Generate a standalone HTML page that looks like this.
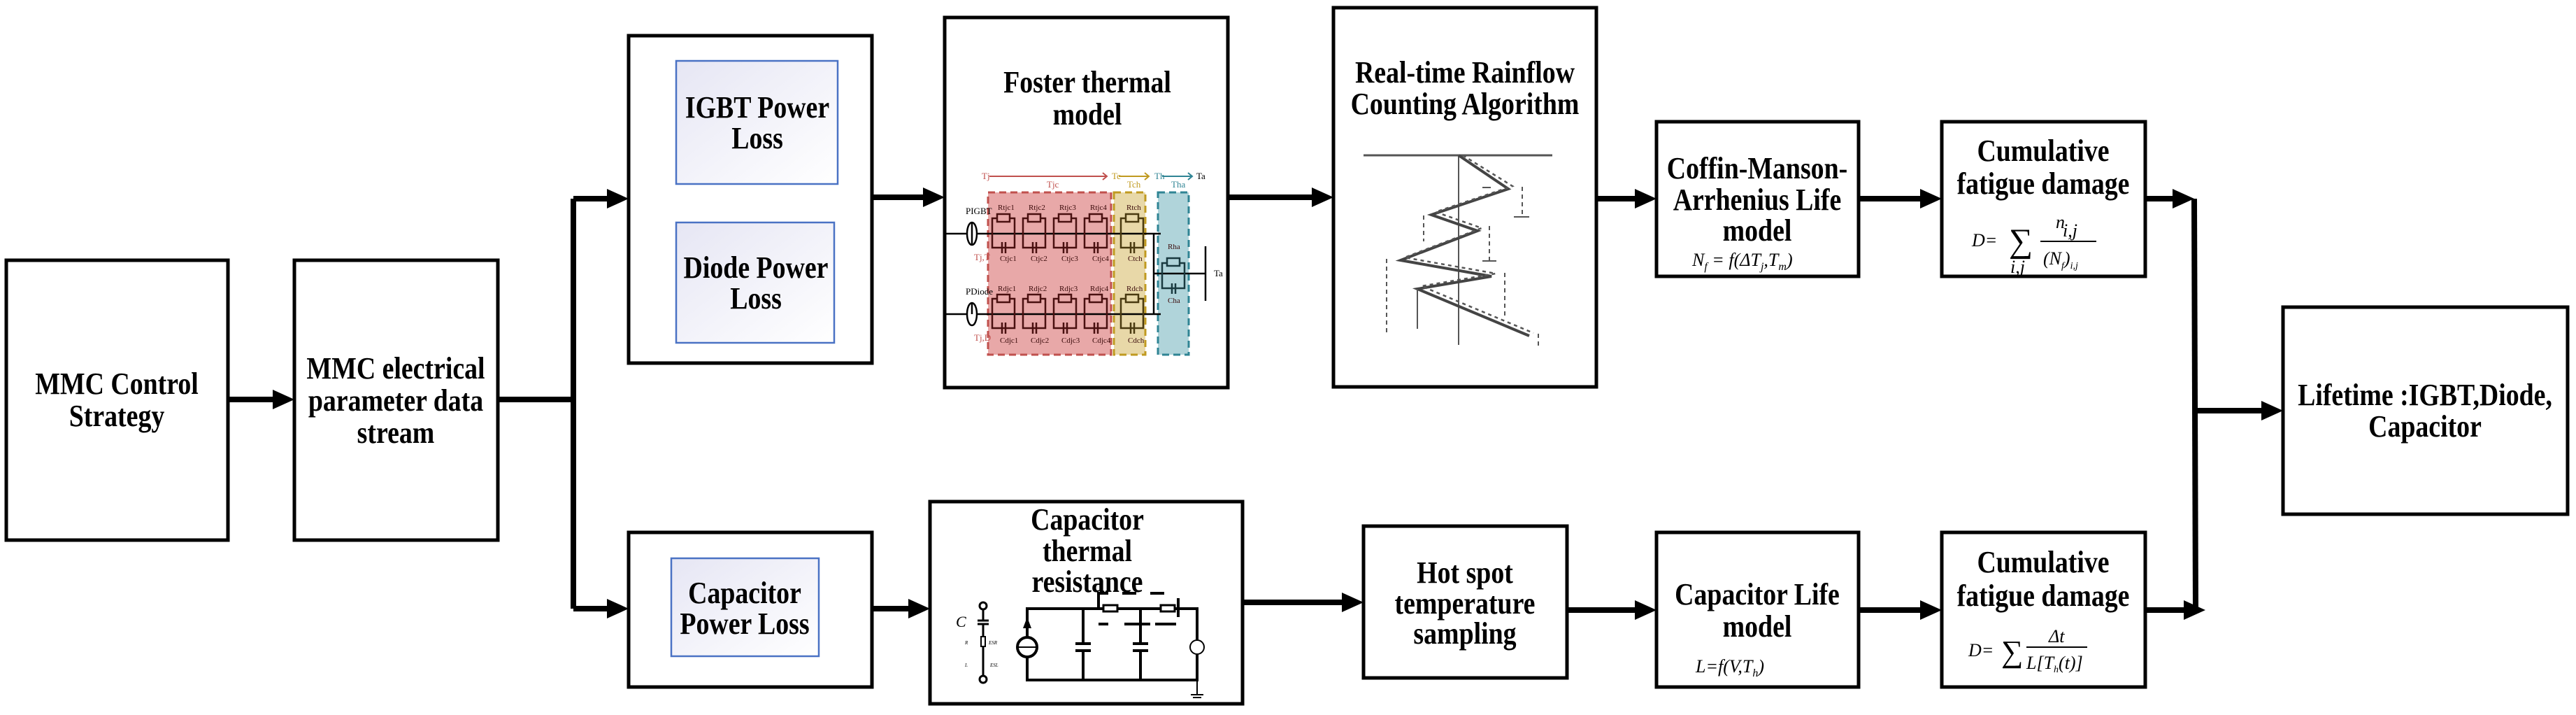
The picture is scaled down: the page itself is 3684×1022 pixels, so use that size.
<!DOCTYPE html>
<html><head><meta charset="utf-8"><style>
html,body{margin:0;padding:0;background:#fff;}
svg{display:block;}
.t{font-family:"Liberation Serif","Times New Roman",serif;font-weight:bold;font-size:44px;fill:#000;}
.m{font-family:"Liberation Serif",serif;font-style:italic;font-size:26px;fill:#000;}
.s{font-family:"Liberation Serif",serif;font-size:11px;}
</style></head><body>
<svg width="3684" height="1022" viewBox="0 0 3684 1022" xmlns="http://www.w3.org/2000/svg">
<defs>
<linearGradient id="g" x1="0" y1="0" x2="1" y2="1"><stop offset="0" stop-color="#e6e6f4"/><stop offset="1" stop-color="#ffffff"/></linearGradient>
<g id="cell" fill="none" stroke="#4a1010" stroke-width="2.5">
<rect x="-16" y="-22" width="32" height="42"/>
<rect x="-9" y="-28" width="18" height="11" fill="#e8a8a8"/>
<line x1="-2" y1="12" x2="-2" y2="28"/><line x1="3" y1="12" x2="3" y2="28"/>
</g>
<g id="celly" fill="none" stroke="#4a3a10" stroke-width="2.5">
<rect x="-16" y="-22" width="32" height="42"/>
<rect x="-9" y="-28" width="18" height="11" fill="#e8d8a8"/>
<line x1="-2" y1="12" x2="-2" y2="28"/><line x1="3" y1="12" x2="3" y2="28"/>
</g>
</defs>

<g fill="none" stroke="#000" stroke-width="5">
<rect x="9" y="372" width="317" height="400"/>
<rect x="421" y="372" width="291" height="400"/>
<rect x="899" y="51" width="348" height="468"/>
<rect x="899" y="761" width="348" height="221"/>
<rect x="1351" y="25" width="405" height="529"/>
<rect x="1907" y="11" width="376" height="542"/>
<rect x="1330" y="717" width="447" height="289"/>
<rect x="1950" y="752" width="291" height="217"/>
<rect x="2369" y="174" width="289" height="221"/>
<rect x="2777" y="174" width="291" height="221"/>
<rect x="2369" y="761" width="289" height="221"/>
<rect x="2777" y="761" width="291" height="221"/>
<rect x="3265" y="439" width="407" height="296"/>
</g>
<g fill="url(#g)" stroke="#4a72c4" stroke-width="2.5">
<rect x="967" y="87" width="231" height="176"/>
<rect x="967" y="318" width="226" height="172"/>
<rect x="960" y="798" width="211" height="140"/>
</g>

<g stroke="#000" stroke-width="8" fill="none">
<polyline points="326,571 395,571"/>
<polyline points="712,571 820,571"/>
<polyline points="820,284 820,870"/>
<polyline points="820,284 873,284"/>
<polyline points="820,870 873,870"/>
<polyline points="1247,282 1325,282"/>
<polyline points="1756,282 1881,282"/>
<polyline points="2283,284 2343,284"/>
<polyline points="2658,284 2751,284"/>
<polyline points="3068,284 3112,284"/>
<polyline points="3138,284 3140,872"/>
<polyline points="3138,587 3239,587"/>
<polyline points="1247,870 1304,870"/>
<polyline points="1777,861 1924,861"/>
<polyline points="2241,872 2343,872"/>
<polyline points="2658,872 2751,872"/>
<polyline points="3068,872 3128,872"/>
</g>
<g fill="#000">
<polygon points="421,571 390,557 390,585"/>
<polygon points="899,284 868,270 868,298"/>
<polygon points="899,870 868,856 868,884"/>
<polygon points="1351,282 1320,268 1320,296"/>
<polygon points="1907,282 1876,268 1876,296"/>
<polygon points="2369,284 2338,270 2338,298"/>
<polygon points="2777,284 2746,270 2746,298"/>
<polygon points="3138,284 3107,270 3107,298"/>
<polygon points="3265,587 3234,573 3234,601"/>
<polygon points="1330,870 1299,856 1299,884"/>
<polygon points="1950,861 1919,847 1919,875"/>
<polygon points="2369,872 2338,858 2338,886"/>
<polygon points="2777,872 2746,858 2746,886"/>
<polygon points="3154,872 3123,858 3123,886"/>
</g>

<g class="t" text-anchor="middle" font-family="Liberation Serif, serif" font-weight="bold">
<g transform="translate(167,563) scale(0.86,1)"><text>MMC Control</text><text y="46">Strategy</text></g>
<g transform="translate(566,541) scale(0.86,1)"><text>MMC electrical</text><text y="46">parameter data</text><text y="92">stream</text></g>
<g transform="translate(1083,168) scale(0.86,1)"><text>IGBT Power</text><text y="44">Loss</text></g>
<g transform="translate(1081,397) scale(0.86,1)"><text>Diode Power</text><text y="44">Loss</text></g>
<g transform="translate(1065,862) scale(0.86,1)"><text>Capacitor</text><text y="44">Power Loss</text></g>
<g transform="translate(1555,132) scale(0.86,1)"><text>Foster thermal</text><text y="46">model</text></g>
<g transform="translate(2095,118) scale(0.86,1)"><text>Real-time Rainflow</text><text y="45">Counting Algorithm</text></g>
<g transform="translate(1555,757) scale(0.86,1)"><text>Capacitor</text><text y="45">thermal</text><text y="89">resistance</text></g>
<g transform="translate(2095,833) scale(0.86,1)"><text>Hot spot</text><text y="44">temperature</text><text y="87">sampling</text></g>
<g transform="translate(2513,255) scale(0.86,1)"><text>Coffin-Manson-</text><text y="45">Arrhenius Life</text><text y="89">model</text></g>
<g transform="translate(2922,230) scale(0.86,1)"><text>Cumulative</text><text y="47">fatigue damage</text></g>
<g transform="translate(2513,864) scale(0.86,1)"><text>Capacitor Life</text><text y="46">model</text></g>
<g transform="translate(2922,818) scale(0.86,1)"><text>Cumulative</text><text y="48">fatigue damage</text></g>
<g transform="translate(3468,579) scale(0.86,1)"><text>Lifetime :IGBT,Diode,</text><text y="45">Capacitor</text></g>
</g>

<text class="m" x="2420" y="380">N<tspan font-size="16" dy="6">f</tspan><tspan dy="-6"> = f(ΔT</tspan><tspan font-size="16" dy="6">j</tspan><tspan dy="-6">,T</tspan><tspan font-size="16" dy="6">m</tspan><tspan dy="-6">)</tspan></text>
<text class="m" x="2820" y="352" font-size="30">D=</text>
<text x="2873" y="360" font-family="Liberation Serif" font-size="48">∑</text>
<text class="m" x="2940" y="326">n</text>
<text class="m" x="2950" y="338" font-size="14">i,j</text>
<line x1="2918" y1="345" x2="2998" y2="345" stroke="#000" stroke-width="2"/>
<text class="m" x="2922" y="378">(N<tspan font-size="14" dy="6">f</tspan><tspan dy="-6">)</tspan><tspan font-size="14" dy="6">i,j</tspan></text>
<text class="m" x="2875" y="390" font-size="14">i,j</text>
<text class="m" x="2425" y="961" font-size="30">L=f(V,T<tspan font-size="16" dy="6">h</tspan><tspan dy="-6">)</tspan></text>
<text class="m" x="2815" y="938" font-size="28">D=</text>
<text x="2862" y="946" font-family="Liberation Serif" font-size="44">∑</text>
<text class="m" x="2930" y="918">Δt</text>
<line x1="2898" y1="925" x2="2985" y2="925" stroke="#000" stroke-width="2"/>
<text class="m" x="2898" y="956">L[T<tspan font-size="14" dy="5">h</tspan><tspan dy="-5">(t)]</tspan></text>

<rect x="1413" y="275" width="176" height="232" fill="#e8a8a8" stroke="#c0504d" stroke-width="3" stroke-dasharray="10,6"/>
<rect x="1593" y="275" width="45" height="232" fill="#e8d8a8" stroke="#c09a20" stroke-width="3" stroke-dasharray="10,6"/>
<rect x="1656" y="275" width="44" height="232" fill="#b0d4da" stroke="#2f8494" stroke-width="3" stroke-dasharray="10,6"/>
<g stroke="#c0504d" stroke-width="2" fill="none"><line x1="1415" y1="252" x2="1582" y2="252"/><polyline points="1577,247 1583,252 1577,257"/></g>
<g stroke="#c09a20" stroke-width="2" fill="none"><line x1="1600" y1="252" x2="1642" y2="252"/><polyline points="1637,247 1643,252 1637,257"/></g>
<g stroke="#2f8494" stroke-width="2" fill="none"><line x1="1662" y1="252" x2="1704" y2="252"/><polyline points="1699,247 1705,252 1699,257"/></g>
<g font-family="Liberation Serif" font-size="13">
<text x="1404" y="256" fill="#c0504d">Tj</text><text x="1497" y="268" fill="#c0504d">Tjc</text>
<text x="1590" y="256" fill="#c09a20">Tc</text><text x="1612" y="268" fill="#c09a20">Tch</text>
<text x="1651" y="256" fill="#2f8494">Th</text><text x="1675" y="268" fill="#2f8494">Tha</text>
<text x="1711" y="256" fill="#000">Ta</text><text x="1736" y="395" fill="#000">Ta</text>
<text x="1381" y="306">PIGBT</text><text x="1381" y="421">PDiode</text>
<text x="1393" y="372" fill="#c0504d">Tj,T</text><text x="1393" y="487" fill="#c0504d">Tj,D</text>
</g>
<g stroke="#000" stroke-width="2.5" fill="none">
<line x1="1352" y1="334" x2="1384" y2="334"/><line x1="1352" y1="449" x2="1384" y2="449"/>
<ellipse cx="1390" cy="334" rx="7" ry="16"/><line x1="1390" y1="318" x2="1390" y2="350"/>
<ellipse cx="1390" cy="449" rx="7" ry="16"/><line x1="1390" y1="433" x2="1390" y2="449"/>
<line x1="1397" y1="334" x2="1660" y2="334"/><line x1="1397" y1="449" x2="1660" y2="449"/>
<line x1="1650" y1="334" x2="1650" y2="449"/><line x1="1650" y1="391" x2="1724" y2="391"/>
<line x1="1724" y1="352" x2="1724" y2="430"/>
</g>
<use href="#cell" x="1435" y="334"/><use href="#cell" x="1479" y="334"/><use href="#cell" x="1523" y="334"/><use href="#cell" x="1567" y="334"/>
<use href="#cell" x="1435" y="449"/><use href="#cell" x="1479" y="449"/><use href="#cell" x="1523" y="449"/><use href="#cell" x="1567" y="449"/>
<use href="#celly" x="1619" y="334"/><use href="#celly" x="1619" y="449"/>
<g fill="none" stroke="#1a3a40" stroke-width="2.5"><rect x="1662" y="376" width="32" height="36"/><rect x="1669" y="369" width="18" height="11" fill="#b0d4da"/><line x1="1676" y1="405" x2="1676" y2="420"/><line x1="1681" y1="405" x2="1681" y2="420"/></g>
<g class="s" fill="#3a0a0a">
<text x="1427" y="300">Rtjc1</text><text x="1471" y="300">Rtjc2</text><text x="1515" y="300">Rtjc3</text><text x="1559" y="300">Rtjc4</text><text x="1611" y="300">Rtch</text>
<text x="1430" y="373">Ctjc1</text><text x="1474" y="373">Ctjc2</text><text x="1518" y="373">Ctjc3</text><text x="1562" y="373">Ctjc4</text><text x="1613" y="373">Ctch</text>
<text x="1427" y="416">Rdjc1</text><text x="1471" y="416">Rdjc2</text><text x="1515" y="416">Rdjc3</text><text x="1559" y="416">Rdjc4</text><text x="1611" y="416">Rdch</text>
<text x="1430" y="490">Cdjc1</text><text x="1474" y="490">Cdjc2</text><text x="1518" y="490">Cdjc3</text><text x="1562" y="490">Cdjc4</text><text x="1613" y="490">Cdch</text>
<text x="1670" y="356">Rha</text><text x="1670" y="433">Cha</text>
</g>

<g stroke="#555" fill="none">
<line x1="1950" y1="222" x2="2220" y2="222" stroke-width="3"/>
<line x1="2086" y1="222" x2="2086" y2="493" stroke-width="2"/>
<polyline points="2086,222 2157,270 2047,307 2113,330 2003,372 2133,395 2027,413 2187,480" stroke-width="4" stroke="#444"/>
<polyline points="2092,222 2163,266 2053,303 2119,326 2009,368 2139,391 2033,409 2193,476" stroke-width="2.5" stroke-dasharray="5,5"/>
<g stroke-width="2" stroke-dasharray="6,5">
<line x1="1983" y1="370" x2="1983" y2="477"/><line x1="2130" y1="323" x2="2130" y2="373"/>
<line x1="2177" y1="267" x2="2177" y2="310"/><line x1="2152" y1="390" x2="2152" y2="453"/>
<line x1="2200" y1="477" x2="2200" y2="497"/><line x1="2036" y1="308" x2="2036" y2="345"/>
</g>
<line x1="2027" y1="413" x2="2027" y2="470" stroke-width="2"/>
<line x1="2120" y1="268" x2="2132" y2="268" stroke-width="2"/>
<line x1="2165" y1="310" x2="2187" y2="310" stroke-width="2"/>
<line x1="2120" y1="373" x2="2140" y2="373" stroke-width="2"/>
</g>

<g stroke="#000" stroke-width="4" fill="none">
<polyline points="1469,912 1469,870 1712,870 1712,915"/>
<polyline points="1469,938 1469,972 1712,972 1712,935"/>
<circle cx="1469" cy="925" r="14"/><line x1="1455" y1="925" x2="1483" y2="925" stroke-width="2"/>
<line x1="1549" y1="870" x2="1549" y2="920"/><line x1="1549" y1="930" x2="1549" y2="972"/>
<line x1="1538" y1="920" x2="1560" y2="920"/><line x1="1538" y1="930" x2="1560" y2="930"/>
<line x1="1631" y1="870" x2="1631" y2="920"/><line x1="1631" y1="930" x2="1631" y2="972"/>
<line x1="1620" y1="920" x2="1642" y2="920"/><line x1="1620" y1="930" x2="1642" y2="930"/>
<circle cx="1712" cy="925" r="10" stroke-width="2"/>
<line x1="1712" y1="972" x2="1712" y2="993" stroke-width="2"/>
<line x1="1703" y1="993" x2="1721" y2="993" stroke-width="2"/><line x1="1706" y1="997" x2="1718" y2="997" stroke-width="2"/>
<polyline points="1571,868 1571,848 1585,848" /><line x1="1605" y1="848" x2="1625" y2="848"/><line x1="1645" y1="848" x2="1665" y2="848"/>
<line x1="1571" y1="892" x2="1585" y2="892"/><line x1="1608" y1="892" x2="1645" y2="892"/><line x1="1652" y1="892" x2="1682" y2="892"/>
<line x1="1685" y1="855" x2="1685" y2="882"/>
<rect x="1578" y="865" width="20" height="9" fill="#fff" stroke-width="3"/>
<rect x="1660" y="865" width="20" height="9" fill="#fff" stroke-width="3"/>
</g>
<polygon points="1469,882 1463,898 1475,898" fill="#000"/>
<g stroke="#000" fill="none" stroke-width="3">
<circle cx="1406" cy="866" r="5"/><circle cx="1406" cy="971" r="5"/>
<line x1="1406" y1="871" x2="1406" y2="887"/><line x1="1398" y1="887" x2="1414" y2="887"/><line x1="1398" y1="892" x2="1414" y2="892"/>
<line x1="1406" y1="892" x2="1406" y2="910"/><rect x="1403" y="910" width="6" height="14" stroke-width="2"/>
<line x1="1406" y1="924" x2="1406" y2="966"/>
</g>
<text x="1367" y="896" font-family="Liberation Serif" font-style="italic" font-size="22">C</text>
<g font-family="Liberation Serif" font-style="italic" font-size="7"><text x="1380" y="921">R</text><text x="1414" y="921">ESR</text><text x="1380" y="953">L</text><text x="1416" y="953">ESL</text></g>
</svg>
</body></html>
